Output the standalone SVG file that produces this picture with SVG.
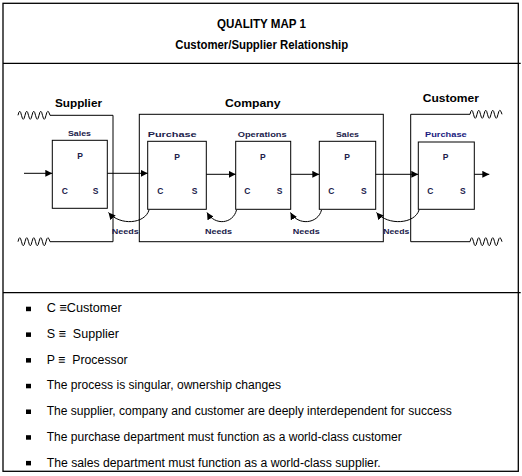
<svg xmlns="http://www.w3.org/2000/svg" width="522" height="476" viewBox="0 0 522 476">
<style>
.frame{fill:none;stroke:#000;stroke-width:1.3}
.box{fill:#fff;stroke:#000;stroke-width:1}
.ln{fill:none;stroke:#000;stroke-width:1}
.title{font-family:"Liberation Sans",Arial,sans-serif;font-weight:bold;font-size:12px;fill:#000;text-anchor:middle}
.hdr{font-family:"Liberation Sans",Arial,sans-serif;font-weight:bold;font-size:10.5px;fill:#000}
.lbl{font-family:"Liberation Sans",Arial,sans-serif;font-weight:bold;font-size:7.5px;fill:#20204a}
.pcs{font-family:"Liberation Sans",Arial,sans-serif;font-weight:bold;font-size:8.5px;fill:#20204a}
.bt{font-family:"Liberation Sans",Arial,sans-serif;font-size:12.5px;fill:#000;white-space:pre}
.bul{fill:#000}
</style>
<defs>
<marker id="ah" markerWidth="7" markerHeight="7" refX="7" refY="3.5" orient="auto" markerUnits="userSpaceOnUse">
<path d="M0,0 L7,3.5 L0,7 z" fill="#000"/>
</marker>
<path id="wave" d="M0,0 Q1.75,-8 3.5,0 T7,0 T10.5,0 T14,0 T17.5,0 T21,0 T24.5,0 T28,0 T32,0" fill="none" stroke="#000" stroke-width="1"/>
</defs>
<rect width="522" height="476" fill="#fff"/>
<g id="frame">
<rect class="frame" x="3" y="3.3" width="515.3" height="468"/>
<line class="frame" x1="3" y1="63.3" x2="520.7" y2="63.3"/>
<line class="frame" x1="3" y1="292.7" x2="520.7" y2="292.7"/>
</g>
<g id="title">
<text class="title" x="261.5" y="28.3" textLength="89" lengthAdjust="spacingAndGlyphs">QUALITY MAP 1</text>
<text class="title" x="261.7" y="49.3" textLength="173" lengthAdjust="spacingAndGlyphs">Customer/Supplier Relationship</text>
</g>
<g id="supplier">
<use href="#wave" x="18" y="115.3"/>
<use href="#wave" x="18" y="241.7"/>
<path class="ln" d="M50,115.3 H113 V241.7 H50"/>
<text class="hdr" x="55" y="107" textLength="47" lengthAdjust="spacingAndGlyphs">Supplier</text>
</g>
<g id="company">
<rect class="ln" x="139.3" y="114.3" width="244" height="127.4"/>
<text class="hdr" x="225" y="106.7" textLength="55.5" lengthAdjust="spacingAndGlyphs">Company</text>
</g>
<g id="customer">
<path class="ln" d="M470,114.3 H410.7 V241.7 H470"/>
<use href="#wave" x="470" y="114.3"/>
<use href="#wave" x="470" y="241.7"/>
<text class="hdr" x="422.7" y="102" textLength="56.3" lengthAdjust="spacingAndGlyphs">Customer</text>
</g>
<g id="supplier-sales">
<rect class="box" x="52.3" y="140.3" width="55" height="68"/>
<text class="lbl" x="68" y="135.7" textLength="23" lengthAdjust="spacingAndGlyphs">Sales</text>
<text class="pcs" x="77.3" y="158.5">P</text>
<text class="pcs" x="61.7" y="193.7">C</text>
<text class="pcs" x="92.7" y="193.7">S</text>
</g>
<g id="company-purchase">
<rect class="box" x="147.7" y="141.3" width="58.6" height="68"/>
<text class="lbl" x="147.7" y="136.5" textLength="49" lengthAdjust="spacingAndGlyphs">Purchase</text>
<text class="pcs" x="174.3" y="159.7">P</text>
<text class="pcs" x="157.3" y="193.7">C</text>
<text class="pcs" x="191.7" y="193.7">S</text>
</g>
<g id="company-operations">
<rect class="box" x="235.7" y="141.3" width="55" height="68"/>
<text class="lbl" x="237.7" y="136.5" textLength="49" lengthAdjust="spacingAndGlyphs">Operations</text>
<text class="pcs" x="260" y="159.7">P</text>
<text class="pcs" x="244.3" y="193.7">C</text>
<text class="pcs" x="276.7" y="193.7">S</text>
</g>
<g id="company-sales">
<rect class="box" x="319.3" y="141.3" width="56.4" height="68"/>
<text class="lbl" x="336" y="136.5" textLength="23" lengthAdjust="spacingAndGlyphs">Sales</text>
<text class="pcs" x="344.3" y="159.7">P</text>
<text class="pcs" x="328.3" y="193.7">C</text>
<text class="pcs" x="361" y="193.7">S</text>
</g>
<g id="customer-purchase">
<rect class="box" x="418.3" y="142" width="56" height="67.3"/>
<text class="lbl" x="425" y="136.7" textLength="41.7" lengthAdjust="spacingAndGlyphs" style="fill:#1a1a80">Purchase</text>
<text class="pcs" x="442.7" y="160">P</text>
<text class="pcs" x="427.3" y="194.3">C</text>
<text class="pcs" x="460" y="194.3">S</text>
</g>
<g id="connectors">
<line class="ln" x1="24" y1="173.3" x2="52.3" y2="173.3" marker-end="url(#ah)"/>
<line class="ln" x1="107.3" y1="173.3" x2="147.7" y2="173.3" marker-end="url(#ah)"/>
<line class="ln" x1="206.3" y1="174.3" x2="235.7" y2="174.3" marker-end="url(#ah)"/>
<line class="ln" x1="290.7" y1="174.3" x2="319.3" y2="174.3" marker-end="url(#ah)"/>
<line class="ln" x1="375.7" y1="174.3" x2="418.3" y2="174.3" marker-end="url(#ah)"/>
<line class="ln" x1="474.3" y1="174.3" x2="489.3" y2="174.3" marker-end="url(#ah)"/>
<path class="ln" d="M149,210 C145,224 120,226 108.5,212.5" marker-end="url(#ah)"/>
<path class="ln" d="M236.5,210 C233,224 215,226 207,212.5" marker-end="url(#ah)"/>
<path class="ln" d="M321.5,210 C318,224 298,226 290.5,212.5" marker-end="url(#ah)"/>
<path class="ln" d="M419,210 C415,224 388,226 376.5,212.5" marker-end="url(#ah)"/>
<text class="lbl" x="111.7" y="233.5" textLength="27" lengthAdjust="spacingAndGlyphs">Needs</text>
<text class="lbl" x="205" y="233.5" textLength="27" lengthAdjust="spacingAndGlyphs">Needs</text>
<text class="lbl" x="292.7" y="233.5" textLength="27" lengthAdjust="spacingAndGlyphs">Needs</text>
<text class="lbl" x="383.3" y="233.5" textLength="26" lengthAdjust="spacingAndGlyphs">Needs</text>
</g>
<g id="notes">
<rect class="bul" x="26" y="306.7" width="5" height="4.5"/>
<rect class="bul" x="26" y="332.4" width="5" height="4.5"/>
<rect class="bul" x="26" y="358.1" width="5" height="4.5"/>
<rect class="bul" x="26" y="383.8" width="5" height="4.5"/>
<rect class="bul" x="26" y="409.5" width="5" height="4.5"/>
<rect class="bul" x="26" y="435.2" width="5" height="4.5"/>
<rect class="bul" x="26" y="460.9" width="5" height="4.5"/>
<text class="bt" x="46.7" y="312.3" textLength="75" lengthAdjust="spacingAndGlyphs">C ≡Customer</text>
<text class="bt" x="46.7" y="338" textLength="72.3" lengthAdjust="spacingAndGlyphs">S ≡  Supplier</text>
<text class="bt" x="46.7" y="363.7" textLength="81" lengthAdjust="spacingAndGlyphs">P ≡  Processor</text>
<text class="bt" x="46.7" y="389.4" textLength="234.3" lengthAdjust="spacingAndGlyphs">The process is singular, ownership changes</text>
<text class="bt" x="46.7" y="415.1" textLength="405" lengthAdjust="spacingAndGlyphs">The supplier, company and customer are deeply interdependent for success</text>
<text class="bt" x="46.7" y="440.8" textLength="355" lengthAdjust="spacingAndGlyphs">The purchase department must function as a world-class customer</text>
<text class="bt" x="46.7" y="466.5" textLength="334" lengthAdjust="spacingAndGlyphs">The sales department must function as a world-class supplier.</text>
</g>
</svg>
